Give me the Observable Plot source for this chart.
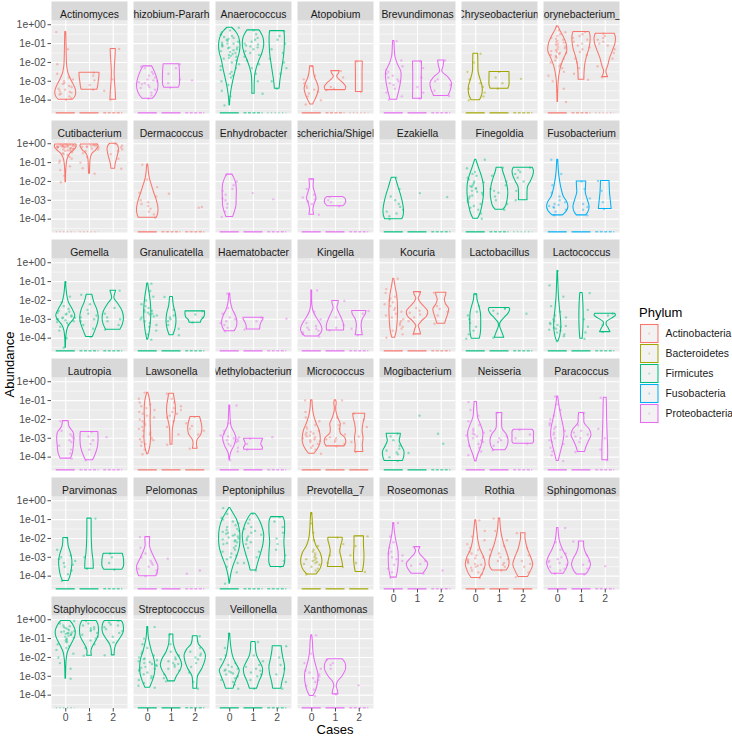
<!DOCTYPE html>
<html><head><meta charset="utf-8">
<script src="https://cdn.jsdelivr.net/npm/d3@7"></script>
<script src="https://cdn.jsdelivr.net/npm/@observablehq/plot@0.6"></script>
<style>body{margin:0;background:#fff} #wrap{position:relative;width:732px;height:737px}</style>
</head><body><div id="wrap"></div>
<script>
const genera = ["Actinomyces","Allorhizobium-Neorhizobium-Pararhizobium-Rhizobium","Anaerococcus","Atopobium","Brevundimonas","Chryseobacterium","Corynebacterium_1",
"Cutibacterium","Dermacoccus","Enhydrobacter","Escherichia/Shigella","Ezakiella","Finegoldia","Fusobacterium",
"Gemella","Granulicatella","Haematobacter","Kingella","Kocuria","Lactobacillus","Lactococcus",
"Lautropia","Lawsonella","Methylobacterium","Micrococcus","Mogibacterium","Neisseria","Paracoccus",
"Parvimonas","Pelomonas","Peptoniphilus","Prevotella_7","Roseomonas","Rothia","Sphingomonas",
"Staphylococcus","Streptococcus","Veillonella","Xanthomonas"];
const genusPhylum = ["Actinobacteria","Proteobacteria","Firmicutes","Actinobacteria","Proteobacteria","Bacteroidetes","Actinobacteria",
"Actinobacteria","Actinobacteria","Proteobacteria","Proteobacteria","Firmicutes","Firmicutes","Fusobacteria",
"Firmicutes","Firmicutes","Proteobacteria","Proteobacteria","Actinobacteria","Firmicutes","Firmicutes",
"Proteobacteria","Actinobacteria","Proteobacteria","Actinobacteria","Firmicutes","Proteobacteria","Proteobacteria",
"Firmicutes","Proteobacteria","Firmicutes","Bacteroidetes","Proteobacteria","Actinobacteria","Proteobacteria",
"Firmicutes","Firmicutes","Firmicutes","Proteobacteria"];
const phyla = ["Actinobacteria","Bacteroidetes","Firmicutes","Fusobacteria","Proteobacteria"];
const phylumColors = ["#F8766D","#A3A500","#00BF7D","#00B0F6","#E76BF3"];
const cases = [0, 1, 2];
const yTicks = [1e-4, 1e-3, 1e-2, 1e-1, 1];
const yMinorTicks = [10 ** -4.5, 10 ** -3.5, 10 ** -2.5, 10 ** -1.5, 10 ** -0.5];

// violin outlines: "log10(abundance),half-width" from bottom to top, per case
const violinC0 = [
"-3.98,.3 -3.8,.41 -3.55,.44 -3.3,.38 -3.0,.26 -2.6,.12 -2.2,.06 -1.6,.04 -0.9,.03 -0.39,.02",
"-3.93,.21 -3.75,.33 -3.45,.43 -3.15,.45 -2.85,.4 -2.5,.3 -2.21,.19",
"-4.28,.01 -3.9,.03 -3.5,.07 -3.1,.13 -2.7,.2 -2.3,.27 -1.9,.33 -1.5,.42 -1.1,.45 -0.7,.4 -0.4,.28 -0.16,.1",
"-4.23,.06 -4.0,.15 -3.7,.25 -3.4,.3 -3.1,.24 -2.8,.14 -2.5,.09 -2.21,.07",
"-3.98,.14 -3.7,.2 -3.3,.27 -2.9,.32 -2.5,.32 -2.1,.17 -1.7,.07 -1.2,.04 -0.87,.03",
"-4.01,.18 -3.7,.28 -3.3,.29 -2.9,.2 -2.5,.12 -2.0,.11 -1.54,.1",
"-4.1,.01 -3.6,.02 -3.0,.04 -2.6,.08 -2.2,.15 -1.8,.27 -1.4,.4 -1.0,.37 -0.6,.23 -0.3,.1 -0.09,.03",
"-2.04,.01 -1.5,.02 -1.1,.04 -0.8,.08 -0.55,.18 -0.35,.35 -0.2,.45 -0.04,.45",
"-3.93,.38 -3.7,.44 -3.4,.45 -3.0,.38 -2.6,.27 -2.2,.17 -1.8,.08 -1.4,.04 -1.11,.02",
"-3.89,.14 -3.6,.22 -3.3,.28 -2.9,.29 -2.5,.3 -2.1,.27 -1.8,.18 -1.64,.12",
"-3.77,.1 -3.5,.07 -3.2,.12 -2.9,.2 -2.6,.14 -2.3,.08 -2.0,.09 -1.89,.1",
"-4.01,.36 -3.8,.42 -3.5,.43 -3.1,.38 -2.7,.3 -2.3,.2 -2.0,.13 -1.8,.08",
"-3.98,.1 -3.7,.2 -3.3,.28 -2.9,.33 -2.5,.35 -2.1,.33 -1.7,.25 -1.3,.14 -0.85,.02",
"-3.8,.22 -3.6,.38 -3.35,.45 -3.1,.4 -2.8,.25 -2.4,.16 -2.0,.1 -1.5,.05 -0.85,.02",
"-4.51,.01 -4.0,.02 -3.6,.06 -3.3,.15 -3.0,.35 -2.8,.4 -2.5,.3 -2.1,.13 -1.7,.06 -1.03,.01",
"-4.08,.02 -3.7,.08 -3.3,.12 -2.8,.15 -2.3,.14 -1.8,.1 -1.4,.05 -1.11,.02",
"-3.64,.2 -3.4,.3 -3.1,.32 -2.8,.25 -2.5,.13 -2.1,.05 -1.64,.02",
"-3.91,.28 -3.7,.42 -3.5,.45 -3.2,.35 -2.9,.2 -2.6,.08 -2.3,.03 -1.47,.02",
"-3.98,.06 -3.6,.13 -3.0,.17 -2.4,.18 -1.8,.15 -1.3,.08 -0.85,.02",
"-4.03,.17 -3.7,.22 -3.2,.23 -2.7,.22 -2.3,.15 -2.0,.08 -1.68,.06",
"-4.17,.03 -3.9,.1 -3.4,.15 -2.9,.13 -2.4,.09 -1.8,.05 -1.2,.03 -0.44,.01",
"-4.08,.22 -3.8,.3 -3.4,.34 -3.0,.36 -2.7,.33 -2.4,.16 -2.09,.12",
"-3.85,.02 -3.5,.1 -3.0,.14 -2.5,.13 -2.0,.12 -1.5,.13 -1.0,.1 -0.58,.02",
"-4.17,.01 -3.8,.05 -3.4,.2 -3.0,.28 -2.7,.2 -2.4,.08 -2.0,.04 -1.26,.02",
"-3.82,.12 -3.6,.25 -3.3,.36 -3.0,.38 -2.6,.33 -2.2,.2 -1.8,.1 -1.4,.05 -0.99,.03",
"-4.21,.38 -4.0,.44 -3.7,.45 -3.4,.33 -3.15,.25 -2.95,.28 -2.76,.3",
"-4.21,.03 -3.9,.1 -3.5,.22 -3.1,.3 -2.7,.32 -2.3,.22 -1.9,.1 -1.5,.07 -1.08,.05",
"-4.21,.04 -3.8,.12 -3.3,.22 -2.8,.28 -2.4,.25 -2.0,.18 -1.5,.1 -1.1,.05 -0.78,.02",
"-4.26,.12 -4.0,.2 -3.6,.26 -3.2,.28 -2.8,.22 -2.4,.12 -1.98,.1",
"-4.01,.36 -3.8,.42 -3.5,.45 -3.2,.35 -2.8,.2 -2.4,.09 -2.1,.1 -1.93,.1",
"-4.4,.01 -4.0,.05 -3.5,.15 -3.0,.3 -2.5,.42 -2.0,.45 -1.5,.42 -1.0,.3 -0.6,.12 -0.39,.02",
"-3.91,.2 -3.6,.38 -3.2,.45 -2.8,.38 -2.4,.2 -2.0,.1 -1.5,.06 -1.0,.04 -0.65,.02",
"-4.08,.12 -3.7,.18 -3.2,.21 -2.7,.2 -2.2,.12 -1.7,.05 -1.18,.02",
"-4.1,.18 -3.8,.32 -3.4,.42 -3.0,.35 -2.6,.2 -2.2,.12 -1.7,.07 -1.04,.02",
"-3.87,.25 -3.6,.38 -3.3,.45 -3.0,.38 -2.6,.22 -2.2,.1 -1.8,.05 -1.45,.03",
"-3.13,.01 -2.6,.02 -2.1,.04 -1.7,.1 -1.3,.25 -0.9,.4 -0.6,.42 -0.3,.33 -0.07,.2",
"-3.61,.1 -3.3,.2 -2.9,.3 -2.5,.32 -2.1,.28 -1.7,.18 -1.3,.1 -0.9,.04 -0.39,.02",
"-3.66,.16 -3.4,.22 -3.0,.35 -2.7,.42 -2.4,.3 -2.0,.15 -1.5,.07 -1.0,.03 -0.74,.02",
"-4.05,.08 -3.7,.2 -3.3,.27 -2.9,.28 -2.5,.2 -2.1,.12 -1.7,.07 -1.2,.05 -0.83,.02"];
const violinC1 = [
"-3.45,.33 -3.3,.36 -3.0,.39 -2.7,.42 -2.55,.42",
"-3.34,.3 -3.2,.35 -2.8,.36 -2.4,.35 -2.1,.33",
"-3.66,.05 -3.2,.05 -2.7,.07 -2.3,.14 -1.9,.25 -1.5,.38 -1.1,.45 -0.7,.42 -0.45,.33 -0.3,.25",
"-3.47,.42 -3.3,.45 -3.1,.33 -2.9,.15 -2.74,.07 -2.6,.14 -2.46,.18",
"-3.93,.19 -3.3,.18 -2.6,.18 -1.95,.19",
"-3.4,.37 -3.2,.42 -2.8,.42 -2.51,.42",
"-2.92,.12 -2.5,.13 -2.1,.16 -1.7,.23 -1.3,.33 -0.9,.38 -0.6,.38 -0.39,.34",
"-1.59,.02 -1.2,.03 -0.8,.05 -0.55,.12 -0.35,.28 -0.15,.38 -0.04,.36",
"", "",
"-3.32,.32 -3.2,.42 -3.05,.45 -2.92,.42 -2.83,.33",
"",
"-3.5,.17 -3.3,.28 -3.0,.34 -2.6,.37 -2.2,.33 -1.8,.24 -1.5,.16 -1.27,.12",
"-3.8,.2 -3.6,.3 -3.35,.34 -3.0,.27 -2.6,.18 -2.3,.19 -2.0,.2",
"-3.94,.14 -3.6,.25 -3.2,.36 -2.9,.39 -2.5,.33 -2.1,.2 -1.7,.12",
"-3.85,.08 -3.5,.17 -3.1,.21 -2.7,.18 -2.3,.1 -1.82,.06",
"-3.54,.28 -3.3,.3 -3.15,.35 -3.0,.42 -2.92,.42",
"-3.59,.36 -3.3,.36 -3.0,.28 -2.7,.17 -2.4,.08 -2.2,.12 -2.03,.14",
"-3.8,.15 -3.55,.1 -3.35,.05 -3.1,.2 -2.85,.4 -2.6,.45 -2.35,.3 -2.1,.12 -1.9,.05 -1.7,.12 -1.56,.15",
"-3.98,.2 -3.7,.12 -3.4,.03 -3.2,.04 -2.95,.2 -2.7,.38 -2.5,.45 -2.4,.42",
"-4.03,.05 -3.5,.08 -2.8,.09 -2.2,.08 -1.61,.05",
"-4.17,.15 -3.9,.25 -3.5,.35 -3.1,.38 -2.67,.37",
"-3.34,.04 -2.9,.05 -2.5,.06 -2.1,.12 -1.7,.18 -1.3,.18 -0.9,.13 -0.64,.1",
"-3.61,.38 -3.5,.4 -3.35,.33 -3.2,.35 -3.05,.4 -3.02,.4",
"-3.43,.38 -3.25,.45 -3.0,.42 -2.75,.22 -2.5,.2 -2.25,.22 -1.95,.12 -1.6,.04 -1.35,.03 -1.15,.05 -0.99,.03",
"",
"-3.64,.24 -3.4,.35 -3.1,.38 -2.8,.3 -2.5,.13 -2.1,.11 -1.66,.12",
"-3.73,.15 -3.5,.2 -3.2,.3 -2.85,.42 -2.55,.35 -2.2,.13 -1.9,.12 -1.66,.1",
"-3.61,.18 -3.2,.17 -2.8,.13 -2.2,.1 -1.5,.09 -0.95,.09",
"",
"-3.7,.12 -3.3,.2 -2.8,.32 -2.3,.42 -1.8,.45 -1.3,.35 -0.9,.2 -0.69,.08",
"-3.52,.32 -3.3,.3 -3.0,.25 -2.7,.2 -2.4,.24 -2.1,.3 -1.96,.3",
"-3.87,.25 -3.6,.4 -3.35,.45 -3.1,.3 -2.85,.12 -2.65,.06 -2.55,.1 -2.46,.12",
"-3.7,.3 -3.5,.4 -3.2,.42 -2.8,.33 -2.4,.22 -2.0,.13 -1.6,.07 -1.2,.04 -0.95,.03",
"-3.91,.2 -3.7,.32 -3.4,.4 -3.1,.33 -2.8,.2 -2.5,.12 -2.16,.11",
"-1.91,.1 -1.7,.08 -1.5,.12 -1.2,.25 -0.9,.37 -0.6,.4 -0.3,.38 -0.07,.3",
"-3.27,.14 -3.0,.23 -2.7,.38 -2.4,.45 -2.1,.38 -1.7,.2 -1.3,.1 -1.0,.08 -0.78,.08",
"-3.66,.15 -3.3,.25 -2.9,.38 -2.6,.4 -2.3,.3 -1.9,.15 -1.5,.1 -1.3,.1 -1.18,.08",
"-3.96,.12 -3.75,.1 -3.55,.05 -3.3,.1 -3.0,.3 -2.6,.45 -2.3,.42 -2.1,.3"];
const violinC2 = [
"-3.98,.12 -3.5,.1 -3.0,.07 -2.5,.06 -2.0,.08 -1.6,.1 -1.29,.11",
"",
"-3.4,.1 -3.0,.13 -2.5,.19 -2.0,.25 -1.5,.3 -1.0,.32 -0.6,.32 -0.34,.3",
"-3.57,.14 -3.0,.14 -2.5,.14 -1.95,.15",
"-3.78,.3 -3.5,.4 -3.1,.45 -2.8,.3 -2.5,.05 -2.2,.1 -1.9,.13",
"",
"-2.78,.12 -2.6,.06 -2.45,.05 -2.2,.12 -1.8,.2 -1.4,.32 -1.0,.43 -0.7,.45 -0.48,.4",
"-1.33,.08 -1.1,.1 -0.8,.16 -0.5,.22 -0.25,.24 -0.05,.17 0,.12",
"", "", "", "",
"-3.0,.18 -2.6,.18 -2.3,.2 -2.0,.32 -1.7,.42 -1.45,.45 -1.27,.4",
"-3.46,.27 -3.1,.24 -2.6,.2 -1.98,.18",
"-3.55,.3 -3.3,.4 -3.0,.45 -2.6,.4 -2.2,.22 -1.9,.05 -1.7,.07 -1.49,.12",
"-3.18,.24 -3.05,.27 -2.9,.38 -2.75,.41 -2.58,.41",
"",
"-3.85,.15 -3.6,.12 -3.3,.1 -3.0,.15 -2.75,.27 -2.56,.3",
"-3.24,.16 -3.0,.22 -2.7,.3 -2.45,.33 -2.2,.2 -1.95,.15 -1.75,.2 -1.59,.22",
"",
"-3.68,.22 -3.5,.15 -3.3,.06 -3.15,.07 -2.95,.3 -2.8,.45 -2.71,.42",
"",
"-3.55,.1 -3.3,.07 -3.1,.1 -2.8,.26 -2.5,.3 -2.2,.27 -1.87,.2",
"",
"-3.73,.17 -3.4,.15 -3.0,.18 -2.6,.14 -2.2,.18 -1.9,.24 -1.7,.25",
"",
"-3.29,.4 -3.2,.45 -2.9,.45 -2.65,.45 -2.55,.4",
"-4.17,.12 -3.5,.12 -2.8,.1 -2.0,.08 -1.3,.07 -0.85,.06",
"-3.66,.38 -3.5,.45 -3.1,.45 -2.9,.42 -2.81,.4",
"",
"-3.52,.27 -3.3,.33 -2.8,.33 -2.2,.3 -1.6,.33 -1.1,.32 -0.87,.26",
"-3.78,.15 -3.4,.2 -2.9,.22 -2.4,.2 -1.89,.2",
"",
"-4.05,.2 -3.8,.3 -3.4,.42 -3.0,.33 -2.6,.2 -2.2,.12 -1.95,.09 -1.72,.1",
"",
"-1.89,.06 -1.6,.07 -1.3,.14 -1.0,.3 -0.7,.43 -0.4,.45 -0.15,.4 -0.07,.35",
"-3.66,.08 -3.3,.09 -3.0,.12 -2.6,.3 -2.2,.42 -1.9,.45 -1.6,.35 -1.3,.15 -0.88,.1",
"-3.66,.17 -3.3,.22 -2.9,.3 -2.5,.33 -2.0,.25 -1.6,.2 -1.41,.19",
""];

// individual samples (log10 abundance) per case
const pointsC0 = [
"-0.39 -1.3 -2.1 -2.6 -2.8 -2.9 -3.0 -3.1 -3.15 -3.25 -3.3 -3.4 -3.45 -3.5 -3.55 -3.6 -3.65 -3.7 -3.8 -3.9 -3.98",
"-2.21 -2.3 -2.5 -2.6 -2.7 -2.8 -2.9 -2.95 -3.0 -3.05 -3.1 -3.15 -3.2 -3.3 -3.35 -3.45 -3.6 -3.75 -3.93",
"-0.16 -0.3 -0.4 -0.5 -0.55 -0.6 -0.65 -0.7 -0.75 -0.8 -0.85 -0.9 -0.95 -1.0 -1.0 -1.05 -1.1 -1.15 -1.2 -1.2 -1.25 -1.3 -1.35 -1.4 -1.45 -1.5 -1.55 -1.6 -1.65 -1.7 -1.75 -1.8 -1.9 -2.0 -2.1 -2.2 -2.3 -2.4 -2.5 -2.6 -2.7 -2.8 -3.0 -3.2 -3.5 -3.8 -4.28",
"-2.21 -2.7 -2.9 -3.1 -3.25 -3.35 -3.45 -3.55 -3.65 -3.8 -4.0 -4.23",
"-0.87 -1.9 -2.2 -2.4 -2.5 -2.6 -2.7 -2.8 -2.9 -3.0 -3.1 -3.2 -3.4 -3.6 -3.8 -3.98",
"-1.54 -2.0 -2.5 -2.9 -3.1 -3.3 -3.4 -3.6 -3.8 -4.01",
"-0.09 -0.3 -0.4 -0.5 -0.6 -0.7 -0.75 -0.8 -0.85 -0.9 -0.95 -1.0 -1.05 -1.1 -1.15 -1.2 -1.25 -1.3 -1.35 -1.4 -1.45 -1.5 -1.5 -1.55 -1.6 -1.65 -1.7 -1.75 -1.8 -1.9 -2.0 -2.1 -2.2 -2.3 -2.5 -2.7 -3.0 -3.4 -4.1",
"-0.04 -0.05 -0.06 -0.07 -0.08 -0.09 -0.1 -0.1 -0.11 -0.12 -0.13 -0.14 -0.15 -0.15 -0.16 -0.17 -0.18 -0.2 -0.2 -0.22 -0.24 -0.26 -0.28 -0.3 -0.32 -0.35 -0.38 -0.4 -0.45 -0.5 -0.55 -0.6 -0.7 -0.8 -0.9 -1.0 -1.2 -1.4 -1.7 -2.04",
"-1.11 -1.9 -2.3 -2.6 -2.8 -3.0 -3.1 -3.2 -3.3 -3.45 -3.6 -3.75 -3.93",
"-1.64 -2.0 -2.2 -2.4 -2.5 -2.7 -2.9 -3.0 -3.2 -3.4 -3.6 -3.89",
"-1.89 -2.4 -2.7 -2.85 -2.95 -3.05 -3.2 -3.77",
"-1.8 -2.4 -2.8 -3.0 -3.2 -3.35 -3.5 -3.6 -3.7 -3.85 -4.01",
"-0.85 -1.3 -1.5 -1.6 -1.7 -1.8 -1.9 -2.0 -2.05 -2.1 -2.2 -2.25 -2.3 -2.35 -2.4 -2.5 -2.55 -2.6 -2.7 -2.75 -2.8 -2.9 -3.0 -3.1 -3.2 -3.3 -3.4 -3.5 -3.7 -3.98",
"-0.85 -1.6 -2.2 -2.6 -2.8 -3.0 -3.1 -3.2 -3.25 -3.3 -3.35 -3.4 -3.5 -3.6 -3.8",
"-1.03 -1.8 -2.1 -2.3 -2.45 -2.55 -2.6 -2.65 -2.7 -2.75 -2.8 -2.85 -2.9 -2.92 -2.95 -3.0 -3.0 -3.05 -3.1 -3.15 -3.2 -3.3 -3.4 -3.6 -4.0 -4.51",
"-1.11 -1.5 -1.8 -2.0 -2.2 -2.3 -2.4 -2.5 -2.55 -2.6 -2.65 -2.7 -2.75 -2.8 -2.85 -2.9 -3.0 -3.1 -3.2 -3.3 -3.4 -3.6 -3.8 -4.08",
"-1.64 -2.4 -2.7 -2.9 -3.0 -3.1 -3.2 -3.3 -3.45 -3.64",
"-1.47 -2.6 -3.0 -3.2 -3.35 -3.45 -3.5 -3.55 -3.6 -3.7 -3.8 -3.91",
"-0.85 -1.4 -1.6 -1.8 -1.9 -2.0 -2.1 -2.2 -2.3 -2.4 -2.5 -2.6 -2.7 -2.8 -2.9 -3.0 -3.1 -3.2 -3.3 -3.4 -3.5 -3.6 -3.8 -3.98",
"-1.68 -2.3 -2.6 -2.8 -3.0 -3.2 -3.4 -3.6 -3.8 -4.03",
"-0.44 -1.2 -1.8 -2.3 -2.6 -2.8 -2.9 -3.0 -3.1 -3.2 -3.25 -3.3 -3.35 -3.4 -3.45 -3.5 -3.55 -3.6 -3.7 -3.8 -3.9 -4.17",
"-2.09 -2.6 -2.8 -2.9 -3.0 -3.1 -3.2 -3.4 -3.6 -3.8 -4.08",
"-0.58 -0.9 -1.1 -1.2 -1.3 -1.4 -1.5 -1.6 -1.7 -1.8 -1.9 -2.0 -2.1 -2.2 -2.3 -2.4 -2.5 -2.6 -2.7 -2.8 -2.9 -3.0 -3.05 -3.1 -3.2 -3.3 -3.4 -3.6 -3.85",
"-1.26 -2.2 -2.6 -2.75 -2.85 -2.9 -2.95 -3.0 -3.05 -3.1 -3.15 -3.2 -3.3 -3.4 -3.5 -3.7 -4.17",
"-0.99 -1.6 -1.9 -2.1 -2.3 -2.4 -2.5 -2.6 -2.65 -2.7 -2.75 -2.8 -2.85 -2.9 -2.95 -3.0 -3.05 -3.1 -3.15 -3.2 -3.3 -3.4 -3.5 -3.6 -3.82",
"-2.76 -2.9 -3.1 -3.4 -3.55 -3.65 -3.75 -3.85 -4.0 -4.21",
"-1.08 -1.5 -1.8 -2.1 -2.3 -2.5 -2.6 -2.7 -2.75 -2.8 -2.85 -2.9 -3.0 -3.1 -3.2 -3.3 -3.4 -3.5 -3.7 -3.9 -4.21",
"-0.78 -1.2 -1.5 -1.8 -2.0 -2.2 -2.3 -2.4 -2.5 -2.6 -2.7 -2.8 -2.9 -3.0 -3.1 -3.2 -3.3 -3.5 -3.7 -3.9 -4.21",
"-1.98 -2.6 -2.9 -3.0 -3.1 -3.2 -3.3 -3.4 -3.5 -3.7 -3.9 -4.26",
"-1.93 -2.5 -2.8 -3.0 -3.2 -3.3 -3.4 -3.5 -3.6 -3.7 -3.85 -4.01",
"-0.39 -0.7 -0.9 -1.0 -1.1 -1.2 -1.3 -1.4 -1.5 -1.55 -1.6 -1.65 -1.7 -1.75 -1.8 -1.85 -1.9 -1.95 -2.0 -2.05 -2.1 -2.15 -2.2 -2.25 -2.3 -2.4 -2.5 -2.6 -2.7 -2.8 -2.9 -3.0 -3.1 -3.3 -3.5 -3.8 -4.4",
"-0.65 -1.2 -1.7 -2.1 -2.4 -2.6 -2.7 -2.8 -2.9 -3.0 -3.05 -3.1 -3.15 -3.2 -3.25 -3.3 -3.35 -3.4 -3.5 -3.6 -3.7 -3.91",
"-1.18 -1.9 -2.2 -2.5 -2.7 -2.8 -2.9 -3.0 -3.1 -3.2 -3.4 -3.6 -3.8 -4.08",
"-1.04 -1.6 -1.9 -2.1 -2.3 -2.5 -2.6 -2.7 -2.8 -2.9 -3.0 -3.05 -3.1 -3.15 -3.2 -3.25 -3.3 -3.35 -3.4 -3.45 -3.5 -3.55 -3.6 -3.7 -3.8 -3.9 -4.1",
"-1.45 -2.2 -2.6 -2.8 -3.0 -3.1 -3.2 -3.25 -3.3 -3.4 -3.5 -3.6 -3.7 -3.87",
"-0.07 -0.2 -0.3 -0.35 -0.4 -0.45 -0.5 -0.55 -0.6 -0.62 -0.65 -0.68 -0.7 -0.72 -0.75 -0.78 -0.8 -0.85 -0.9 -0.95 -1.0 -1.05 -1.1 -1.15 -1.2 -1.3 -1.4 -1.5 -1.6 -1.8 -2.0 -2.3 -2.6 -3.13",
"-0.39 -1.0 -1.3 -1.5 -1.7 -1.8 -1.9 -2.0 -2.05 -2.1 -2.15 -2.2 -2.25 -2.3 -2.35 -2.4 -2.45 -2.5 -2.55 -2.6 -2.65 -2.7 -2.8 -2.9 -3.0 -3.1 -3.2 -3.35 -3.5 -3.61",
"-0.74 -1.5 -1.9 -2.1 -2.3 -2.4 -2.5 -2.6 -2.65 -2.7 -2.75 -2.8 -2.85 -2.9 -3.0 -3.1 -3.2 -3.3 -3.45 -3.66",
"-0.83 -1.8 -2.3 -2.6 -2.7 -2.8 -2.9 -3.0 -3.1 -3.2 -3.3 -3.5 -3.7 -4.05"];
const pointsC1 = [
"-2.55 -2.7 -2.95 -3.2 -3.45",
"-2.1 -2.3 -2.6 -2.9 -3.1 -3.34",
"-0.3 -0.5 -0.7 -0.8 -0.9 -1.0 -1.05 -1.1 -1.15 -1.2 -1.3 -1.4 -1.5 -1.6 -1.7 -1.9 -2.1 -2.3 -2.6 -3.0 -3.66",
"-2.46 -2.8 -3.3 -3.4 -3.47",
"-1.95 -2.3 -2.8 -3.3 -3.6 -3.93",
"-2.51 -2.8 -3.1 -3.4",
"-0.39 -0.5 -0.6 -0.7 -0.8 -0.9 -1.0 -1.1 -1.2 -1.3 -1.45 -1.6 -1.8 -2.0 -2.3 -2.6 -2.92",
"-0.04 -0.06 -0.08 -0.1 -0.12 -0.14 -0.16 -0.18 -0.2 -0.25 -0.3 -0.4 -0.5 -0.7 -1.0 -1.3 -1.59",
"-2.65", "-2.62",
"-2.83 -3.0 -3.1 -3.32",
"-2.62",
"-1.27 -1.7 -2.0 -2.2 -2.4 -2.5 -2.6 -2.8 -3.0 -3.2 -3.5",
"-2.0 -2.4 -2.9 -3.2 -3.35 -3.5 -3.8",
"-1.7 -2.2 -2.5 -2.7 -2.8 -2.9 -3.0 -3.1 -3.3 -3.5 -3.94",
"-1.82 -2.5 -2.8 -2.9 -3.0 -3.1 -3.3 -3.5 -3.85",
"-2.92 -3.1 -3.54",
"-2.03 -2.9 -3.3 -3.45 -3.59",
"-1.56 -2.4 -2.55 -2.65 -2.75 -2.9 -3.1 -3.8",
"-2.4 -2.45 -2.55 -2.7 -3.98",
"-1.61 -2.5 -3.0 -3.4 -3.7 -4.03",
"-2.67 -2.9 -3.1 -3.3 -3.6 -4.17",
"-0.64 -0.9 -1.1 -1.3 -1.4 -1.5 -1.6 -1.7 -1.8 -1.9 -2.1 -2.4 -2.8 -3.34",
"-3.02 -3.3 -3.61",
"-0.99 -1.9 -2.2 -2.3 -2.5 -2.8 -2.95 -3.0 -3.05 -3.1 -3.2 -3.3 -3.43",
"-1.8 -3.78",
"-1.66 -2.6 -2.9 -3.0 -3.1 -3.2 -3.4 -3.64",
"-1.66 -2.3 -2.6 -2.7 -2.8 -2.9 -3.0 -3.2 -3.73",
"-0.95 -3.0 -3.61",
"-3.08",
"-0.69 -1.0 -1.2 -1.4 -1.5 -1.6 -1.7 -1.8 -1.9 -2.0 -2.1 -2.2 -2.3 -2.5 -2.7 -3.0 -3.3 -3.7",
"-1.96 -2.3 -2.9 -3.3 -3.52",
"-2.46 -3.2 -3.35 -3.45 -3.87",
"-0.95 -1.6 -2.1 -2.4 -2.6 -2.8 -2.9 -3.0 -3.1 -3.2 -3.3 -3.4 -3.5 -3.7",
"-2.16 -2.9 -3.2 -3.4 -3.6 -3.91",
"-0.07 -0.2 -0.3 -0.4 -0.45 -0.5 -0.55 -0.6 -0.7 -0.8 -0.9 -1.0 -1.1 -1.3 -1.5 -1.91",
"-0.78 -1.3 -1.7 -1.9 -2.0 -2.1 -2.2 -2.3 -2.35 -2.4 -2.5 -2.6 -2.7 -2.9 -3.1 -3.27",
"-1.18 -1.9 -2.2 -2.4 -2.5 -2.6 -2.7 -2.8 -2.9 -3.0 -3.2 -3.66",
"-2.1 -2.3 -2.4 -2.6 -3.96"];
const pointsC2 = [
"-1.29 -2.9 -3.5 -3.98",
"-2.95",
"-0.34 -0.6 -0.8 -1.0 -1.3 -1.5 -1.8 -2.0 -2.3 -2.6 -3.0 -3.4",
"-1.95 -3.57",
"-1.9 -2.9 -3.0 -3.2 -3.5 -3.78",
"-2.87",
"-0.48 -0.6 -0.7 -0.8 -0.9 -1.0 -1.1 -1.3 -1.5 -1.8 -2.2 -2.78",
"0 -0.1 -0.2 -0.3 -0.4 -0.55 -0.8 -1.33",
"-3.36 -3.4",
"-2.95",
"",
"-2.83",
"-1.27 -1.4 -1.5 -1.6 -1.8 -2.0 -2.5 -3.0",
"-1.98 -2.5 -3.1 -3.46",
"-1.49 -2.4 -2.7 -2.9 -3.0 -3.1 -3.3 -3.55",
"-2.58 -2.75 -2.9 -3.18",
"-2.97",
"-2.56 -2.7 -3.5 -3.85",
"-1.59 -2.3 -2.45 -2.6 -2.8 -3.24",
"-2.7",
"-2.71 -2.8 -3.3 -3.68",
"-2.94",
"-1.87 -2.2 -2.35 -2.5 -2.6 -2.8 -3.55",
"-2.94",
"-1.7 -2.0 -2.4 -2.9 -3.2 -3.73",
"-2.76 -3.29",
"-2.55 -2.8 -3.0 -3.29",
"-0.85 -2.5 -3.0 -3.6 -4.17",
"-2.81 -3.0 -3.3 -3.66",
"-3.7 -3.87",
"-0.87 -1.1 -1.4 -1.7 -2.0 -2.3 -2.6 -2.9 -3.2 -3.52",
"-1.89 -2.4 -2.9 -3.3 -3.78",
"-3.7",
"-1.72 -2.5 -2.9 -3.2 -3.35 -3.5 -3.8 -4.05",
"-3.47",
"-0.07 -0.15 -0.25 -0.3 -0.4 -0.5 -0.6 -0.7 -0.9 -1.2 -1.89",
"-0.88 -1.5 -1.7 -1.8 -1.9 -2.0 -2.1 -2.3 -2.5 -2.8 -3.3 -3.66",
"-1.41 -2.0 -2.4 -2.6 -2.9 -3.3 -3.66",
"-3.48"];
// how many zero-abundance samples each case has: s = many, m = some, f = few, n = none
const zeroLevels = ["ssm","ssm","smf","smf","ssm","ssm","smf","ffn","smm","ssm","ssm","ssm","smf","ssm",
"smm","ssm","ssm","ssm","ssm","ssm","ssm","smm","sss","ssm","sss","ssm","ssm","ssm",
"ssm","ssm","smm","sss","ssm","sss","ssm","fnn","ssm","ssm","ssm"];

// ---------- build tables ----------
const yMin = 10 ** -4.709, yMax = 10 ** 0.224;
const genusRows = genera.map((name, gi) => ({name, gi, col: gi % 7, row: Math.floor(gi / 7), phylum: genusPhylum[gi]}));
const violinSets = [violinC0, violinC1, violinC2];
const pointSets = [pointsC0, pointsC1, pointsC2];
// deterministic horizontal jitter (position only, like geom_jitter width 0.4)
const jitter = (gi, c, i) => { const s = Math.sin((gi * 97 + c * 31 + i * 13.7) * 12.9898) * 43758.5453; return ((s - Math.floor(s)) - 0.5) * 0.8; };
const violinRows = [], pointRows = [], zeroRows = [];
genusRows.forEach(g => {
  cases.forEach(c => {
    const vs = violinSets[c][g.gi].trim();
    if (vs) vs.split(/\s+/).forEach(pair => {
      const [ly, w] = pair.split(",").map(Number);
      violinRows.push({...g, c, key: g.gi * 3 + c, y: 10 ** ly, x1: c - w, x2: c + w});
    });
    const ps = pointSets[c][g.gi].trim();
    if (ps) ps.split(/\s+/).forEach((v, i) => {
      pointRows.push({...g, c, x: c + jitter(g.gi, c, i), y: 10 ** Number(v)});
    });
    const lv = zeroLevels[g.gi][c];
    if (lv !== "n") zeroRows.push({...g, c, level: lv, x1: c - 0.4, x2: c + 0.4});
  });
});
const fmt = d => { const e = Math.round(Math.log10(d)); return "1e" + (e < 0 ? "-" : "+") + String(Math.abs(e)).padStart(2, "0"); };
const zeroMark = (lv, op, dash) => Plot.ruleY(zeroRows.filter(d => d.level === lv), {
  fx: "col", fy: "row", y: () => yMin, x1: "x1", x2: "x2", stroke: "phylum",
  strokeOpacity: op, strokeWidth: 1.6, dy: -0.7, strokeDasharray: dash});

const plot = Plot.plot({
  width: 732, height: 737,
  marginLeft: 51, marginRight: 113, marginTop: 20, marginBottom: 29,
  style: {fontFamily: "'Liberation Sans', Arial, sans-serif", fontSize: "10.4px", background: "transparent", color: "#4D4D4D"},
  fx: {domain: d3.range(7), paddingInner: 6 / 82, paddingOuter: 0, axis: null, label: null},
  fy: {domain: d3.range(6), paddingInner: 26 / 119, paddingOuter: 0, axis: null, label: null},
  x: {domain: [-0.6, 2.6]},
  y: {type: "log", domain: [yMin, yMax]},
  color: {domain: phyla, range: phylumColors},
  marks: [
    Plot.frame({fill: "#EBEBEB", stroke: "none"}),
    Plot.frame({fill: "#D9D9D9", stroke: "none", insetTop: -19, insetBottom: 93}),
    Plot.gridY(yMinorTicks, {stroke: "white", strokeOpacity: 1, strokeWidth: 0.55}),
    Plot.gridY(yTicks, {stroke: "white", strokeOpacity: 1, strokeWidth: 1.1}),
    Plot.gridX(cases, {stroke: "white", strokeOpacity: 1, strokeWidth: 1.1}),
    zeroMark("s", 0.75, null),
    zeroMark("m", 0.6, "3,1.5"),
    zeroMark("f", 0.4, "1.2,2.5"),
    Plot.dot(pointRows, {fx: "col", fy: "row", x: "x", y: "y", r: 1.2, fill: "phylum", fillOpacity: 0.42, stroke: "none"}),
    Plot.areaX(violinRows, {fx: "col", fy: "row", y: "y", x1: "x1", x2: "x2", z: "key", stroke: "phylum", fill: "none", strokeWidth: 1.05, curve: "catmull-rom"}),
    Plot.text(genusRows, {fx: "col", fy: "row", text: "name", frameAnchor: "top", dy: -9.5, fill: "#1A1A1A", fontSize: 10.4}),
    Plot.axisY(yTicks, {anchor: "left", facetAnchor: "left", tickFormat: fmt, tickSize: 3.5, tickPadding: 2.2, label: null, color: "#4D4D4D", fontSize: 10.4}),
    Plot.axisX(cases, {anchor: "bottom", facetAnchor: "bottom-empty", tickSize: 3.5, tickPadding: 1.5, label: null, color: "#4D4D4D", fontSize: 10.4})
  ]
});
document.getElementById("wrap").appendChild(plot);

// clip strip labels to the width of their strips
const svg = d3.select(plot);
const defs = svg.append("defs");
svg.selectAll("text").filter(function() { return genera.includes(this.textContent); }).each(function(d, i) {
  const bb = this.getBBox();
  const cx = bb.x + bb.width / 2;
  const id = "stripclip" + i;
  defs.append("clipPath").attr("id", id).attr("clipPathUnits", "userSpaceOnUse").append("rect")
    .attr("x", cx - 38).attr("y", bb.y - 4).attr("width", 76).attr("height", bb.height + 8);
  this.setAttribute("clip-path", `url(#${id})`);
});

// axis titles
svg.append("text").attr("transform", "translate(9.5,364.5) rotate(-90)").attr("text-anchor", "middle")
  .attr("dominant-baseline", "central").attr("font-size", 13).attr("fill", "#000").text("Abundance");
svg.append("text").attr("x", 335).attr("y", 729.5).attr("text-anchor", "middle")
  .attr("dominant-baseline", "central").attr("font-size", 13).attr("fill", "#000").text("Cases");

// legend
const lg = svg.append("g").attr("text-anchor", "start");
lg.append("text").attr("x", 639).attr("y", 312).attr("text-anchor", "start").attr("dominant-baseline", "central").attr("font-size", 13).attr("fill", "#000").text("Phylum");
phyla.forEach((p, i) => {
  const y0 = 324.5 + i * 20;
  lg.append("rect").attr("x", 640.5).attr("y", y0).attr("width", 17.5).attr("height", 18)
    .attr("fill", "#F2F2F2").attr("stroke", phylumColors[i]).attr("stroke-width", 1.05);
  lg.append("circle").attr("cx", 649.2).attr("cy", y0 + 9).attr("r", 1).attr("fill", phylumColors[i]).attr("fill-opacity", 0.35);
  lg.append("text").attr("x", 665.5).attr("y", y0 + 9).attr("text-anchor", "start").attr("dominant-baseline", "central")
    .attr("font-size", 10.4).attr("fill", "#1A1A1A").text(p);
});
</script>
</body></html>
